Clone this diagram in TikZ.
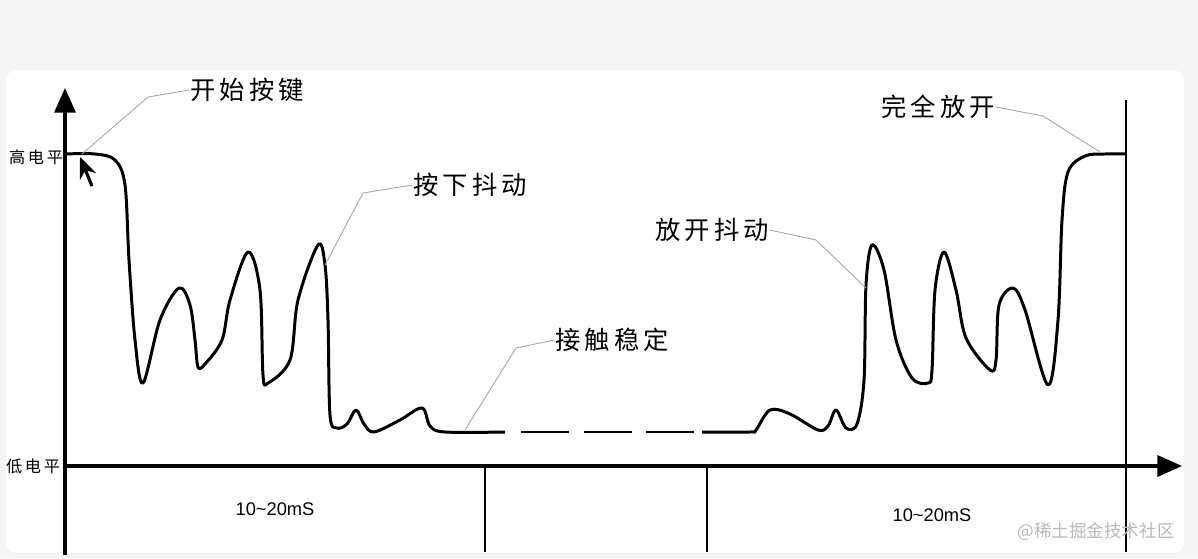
\documentclass[tikz,border=0pt]{standalone}
\usepackage{fontspec}
\setmainfont{Liberation Sans}
\newfontfamily\cjk{Noto Sans CJK SC}
\usetikzlibrary{arrows.meta}
\begin{document}
\begin{tikzpicture}[x=0.01cm,y=-0.01cm,
  wave/.style={line width=0.85pt,line join=round},
  axis/.style={line width=0.9pt},
  lead/.style={gray!70,line width=0.25pt},
  big/.style={font=\cjk\fontsize{7.2}{8}\selectfont,inner sep=0},
  small/.style={font=\cjk\fontsize{4.6}{5}\selectfont,inner sep=0},
  tm/.style={font=\fontsize{5.2}{6}\selectfont,inner sep=0}]
\useasboundingbox (0,0) rectangle (1198,558);
\fill[gray!8] (0,0) rectangle (1198,558);
\fill[white,rounded corners=3] (6,70) rectangle (1184,553);
% axes
\draw[axis,-{Triangle[length=7pt,width=6pt]}] (65,555) -- (65,88);
\draw[axis,-{Triangle[length=7pt,width=6pt]}] (65,466) -- (1182,466);
\draw[line width=0.5pt] (485,466) -- (485,552);
\draw[line width=0.5pt] (707,466) -- (707,552);
\draw[line width=0.6pt] (1126,100) -- (1126,552);
% waveform
\draw[wave] plot[smooth,tension=0.55] coordinates{
 (65,154) (95,154) (115,160) (125,185) (129,260) (135,340) (143,383)
 (160,320) (179,288) (190,305) (195,340) (198,367) (205,364) (222,340) (230,300) (248,252) (260,290) (263,375) (268,383)
 (290,360) (298,300) (318,245) (325,265) (328,320) (330,415) (337,428) (347,424) (356,410) (364,424) (374,432)
 (400,420) (422,408) (430,426) (445,432) (505,432)};
\foreach \a in {521,584,646}{\draw[wave] (\a,432) -- ++(48,0);}
\draw[wave] plot[smooth,tension=0.55] coordinates{
 (702,432) (750,432) (756,430) (770,410) (790,414) (818,430) (828,426) (836,410) (846,428) (857,424)
 (864,380) (866,285) (872,245) (884,270) (896,340) (912,378) (928,383) (932,370) (935,290) (944,252)
 (956,290) (966,338) (990,370) (996,360) (999,305) (1013,288) (1025,310) (1048,385)
 (1058,320) (1062,220) (1068,172) (1085,156) (1105,154) (1126,154)};
% cursor
\draw[line width=0.9pt,-{Stealth[length=6pt,width=5pt]}] (92,186) -- (80,157);
% labels
\node[big] (k1) at (247,90) {开\,始\,按\,键};
\node[big] (k2) at (470,185) {按\,下\,抖\,动};
\node[big] (k3) at (612,340) {接\,触\,稳\,定};
\node[big] (k4) at (712,230) {放\,开\,抖\,动};
\node[big] (k5) at (938,107) {完\,全\,放\,开};
\draw[lead] (82,154) -- (148,97) -- (k1.west);
\draw[lead] (325,265) -- (363,193) -- (k2.west);
\draw[lead] (465,430) -- (516,348) -- (k3.west);
\draw[lead] (866,288) -- (816,240) -- (k4.east);
\draw[lead] (1100,152) -- (1043,116) -- (k5.east);
\node[small] (hi) at (36,157) {高\,电\,平};
\node[small] (lo) at (33,466) {低\,电\,平};
\node[tm] (t1) at (275,509) {10\textasciitilde 20mS};
\node[tm] (t2) at (932,515) {10\textasciitilde 20mS};
\node[font=\cjk\fontsize{5}{6}\selectfont,gray!55,inner sep=0] (wm) at (1096,532) {@稀土掘金技术社区};
\end{tikzpicture}
\end{document}
